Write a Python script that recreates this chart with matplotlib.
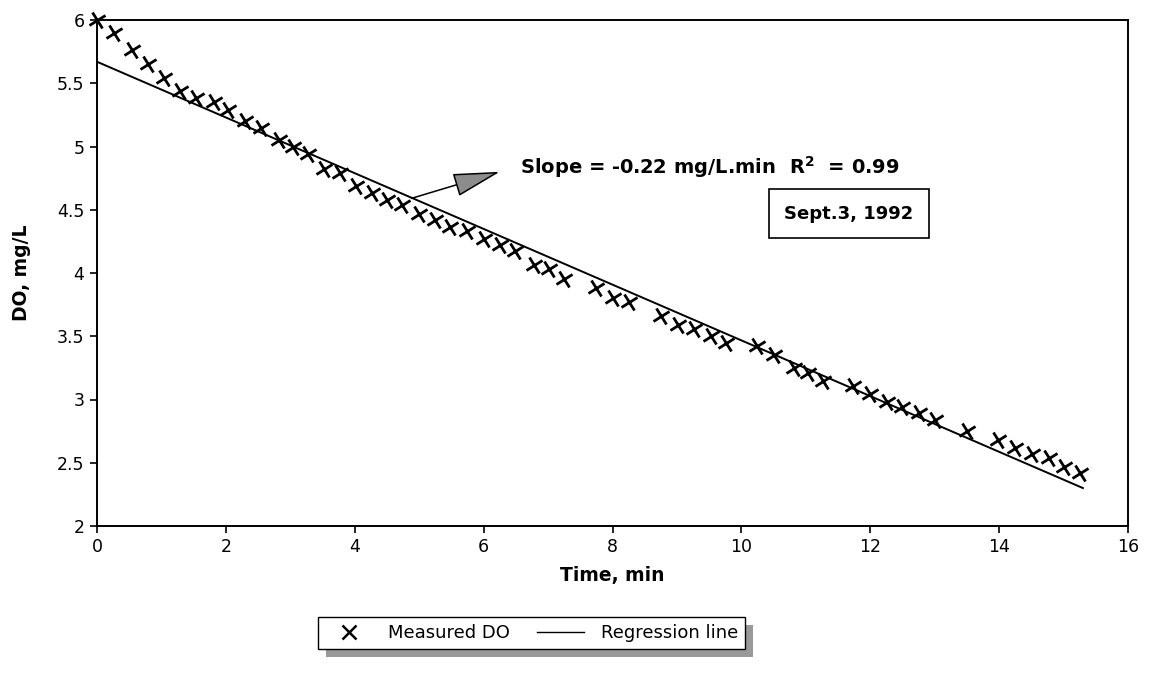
import matplotlib
matplotlib.use("Agg")
import matplotlib.pyplot as plt
from matplotlib.markers import MarkerStyle
from matplotlib.transforms import Affine2D
from matplotlib.lines import Line2D
from matplotlib.patches import FancyArrowPatch, Rectangle

plt.rcParams['font.family'] = ['DejaVu Sans']
plt.rcParams['mathtext.fontset'] = 'dejavusans'

# Measured dissolved oxygen (time in min, DO in mg/L)
time_min = [0.00, 0.27, 0.54, 0.79, 1.04, 1.29, 1.54, 1.82, 2.03, 2.30,
            2.55, 2.83, 3.04, 3.27, 3.52, 3.77, 4.02, 4.26, 4.50, 4.73,
            4.99, 5.25, 5.48, 5.74, 6.00, 6.26, 6.49, 6.78, 7.01, 7.24,
            7.74, 8.00, 8.26, 8.76, 9.01, 9.27, 9.53, 9.76, 10.25, 10.51,
            10.82, 11.04, 11.27, 11.74, 12.00, 12.26, 12.49, 12.75, 13.01, 13.50,
            13.99, 14.25, 14.51, 14.77, 15.00, 15.26]
do_mgL = [6.00, 5.90, 5.76, 5.65, 5.54, 5.44, 5.38, 5.35, 5.29, 5.20,
          5.15, 5.05, 5.00, 4.94, 4.82, 4.79, 4.69, 4.63, 4.58, 4.54,
          4.47, 4.42, 4.36, 4.33, 4.27, 4.22, 4.17, 4.06, 4.03, 3.95,
          3.88, 3.80, 3.77, 3.66, 3.59, 3.56, 3.50, 3.45, 3.42, 3.35,
          3.25, 3.21, 3.15, 3.11, 3.04, 2.98, 2.94, 2.89, 2.84, 2.75,
          2.68, 2.62, 2.57, 2.54, 2.47, 2.42]

# Regression line end points
reg_time = [0.0, 15.3]
reg_do = [5.67, 2.30]

x_ticks = [0, 2, 4, 6, 8, 10, 12, 14, 16]
y_ticks = [2, 2.5, 3, 3.5, 4, 4.5, 5, 5.5, 6]
y_tick_labels = ["2", "2.5", "3", "3.5", "4", "4.5", "5", "5.5", "6"]

slope_text = "Slope = -0.22 mg/L.min  R$^{\\mathbf{2}}$  = 0.99"
date_text = "Sept.3, 1992"

W, H = 1152, 673
fig = plt.figure(figsize=(W / 100, H / 100), dpi=100)
L, R, T, B = 97, 1128, 20, 526
ax = fig.add_axes([L / W, 1 - B / H, (R - L) / W, (B - T) / H])

cross = MarkerStyle('+', transform=Affine2D().rotate_deg(30))
ax.plot(time_min, do_mgL, ls='none', marker=cross, markersize=14,
        mew=2.0, color='black', zorder=3, clip_on=False)
ax.plot(reg_time, reg_do, color='black', lw=1.4, zorder=2)

ax.set_xlim(0, 16)
ax.set_ylim(2, 6)
ax.set_xticks(x_ticks)
ax.set_xticklabels([str(v) for v in x_ticks])
ax.set_yticks(y_ticks)
ax.set_yticklabels(y_tick_labels)
ax.tick_params(direction='out', length=5, width=1.2, labelsize=12.5, pad=4)
for s in ax.spines.values():
    s.set_linewidth(1.4)

ax.set_xlabel("Time, min", fontsize=13.5, fontweight='bold')
ax.xaxis.set_label_coords(0.5, (B - 566) / (B - T))
ax.set_ylabel("DO, mg/L", fontsize=13.5, fontweight='bold')
ax.yaxis.set_label_coords((31 - L) / (R - L), 0.5)

ax.text(6.56, 4.84, slope_text, fontsize=14, fontweight='bold',
        ha='left', va='center')
ax.text(11.67, 4.47, date_text, fontsize=13, fontweight='bold',
        ha='center', va='center',
        bbox=dict(boxstyle='square,pad=0.85', fc='white', ec='black', lw=1.2))

arrow = FancyArrowPatch((4.88, 4.59), (6.25, 4.80),
                        arrowstyle='-|>,head_length=30,head_width=7.5',
                        mutation_scale=1, shrinkA=0, shrinkB=0,
                        fc='0.55', ec='black', lw=1.1, zorder=4)
ax.add_patch(arrow)

handles = [Line2D([], [], ls='none', marker='x', markersize=10, mew=1.8, color='black'),
           Line2D([], [], color='black', lw=1.0)]
leg = fig.legend(handles, ["Measured DO", "Regression line"], loc='center',
                 bbox_to_anchor=((318 + 745) / 2 / W, 1 - 633 / H), ncol=2,
                 fontsize=13, frameon=True, fancybox=False, edgecolor='black',
                 framealpha=1, borderpad=0.4, handlelength=2.6,
                 columnspacing=1.5, handletextpad=0.9, borderaxespad=0)
leg.get_frame().set_linewidth(1.0)

fig.canvas.draw()
bb = leg.get_window_extent()
off = 8
shadow = Rectangle(((bb.x0 + off) / W, (bb.y0 - off) / H), bb.width / W, bb.height / H,
                   transform=fig.transFigure, fc='0.6', ec='none', zorder=4)
fig.add_artist(shadow)
leg.set_zorder(5)

fig.savefig("out.png", dpi=100)
